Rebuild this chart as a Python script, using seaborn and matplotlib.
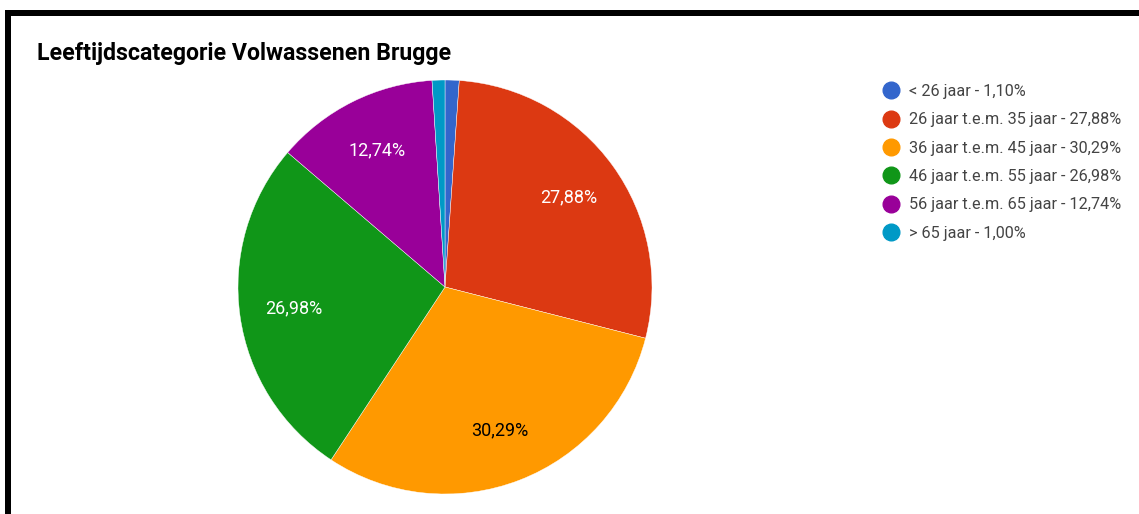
import numpy as np
import matplotlib
matplotlib.use("Agg")
import matplotlib.pyplot as plt
from matplotlib.lines import Line2D
from matplotlib.patches import Rectangle
import seaborn as sns

# Age-category shares (percent)
categories = [
    "< 26 jaar",
    "26 jaar t.e.m. 35 jaar",
    "36 jaar t.e.m. 45 jaar",
    "46 jaar t.e.m. 55 jaar",
    "56 jaar t.e.m. 65 jaar",
    "> 65 jaar",
]
shares = [1.10, 27.88, 30.29, 26.98, 12.74, 1.00]
slice_colors = ["#3366CC", "#DC3912", "#FF9900", "#109618", "#990099", "#0099C6"]
label_text_colors = ["white", "white", "black", "white", "white", "white"]
title = "Leeftijdscategorie Volwassenen Brugge"

sns.set_theme(style="white")
plt.rcParams["font.family"] = ["Roboto", "DejaVu Sans"]

W, H = 1139, 514
fig = plt.figure(figsize=(W / 100, H / 100), dpi=100)
fig.patch.set_facecolor("white")

palette = sns.color_palette(slice_colors)

def fx(px):
    return px / W

def fy(py):
    return 1 - py / H

# pie axes: centre (445, 287), radius 207 px
cx, cy, r = 445, 287, 207
ax = fig.add_axes([fx(cx - r), fy(cy + r), 2 * r / W, 2 * r / H])
wedges, _ = ax.pie(
    shares,
    colors=palette,
    startangle=90,
    counterclock=False,
    wedgeprops=dict(edgecolor="white", linewidth=0.3),
)
ax.set_xlim(-1, 1)
ax.set_ylim(-1, 1)
ax.set_aspect("auto")

def fmt(v):
    return f"{v:.2f}%".replace(".", ",")

for w, v, tc in zip(wedges, shares, label_text_colors):
    if v < 5:
        continue
    ang = np.deg2rad((w.theta1 + w.theta2) / 2)
    d = 0.74
    ax.text(d * np.cos(ang), d * np.sin(ang), fmt(v), ha="center", va="center",
            color=tc, fontsize=13)

# title
fig.text(fx(37), fy(60), title, fontsize=16.7, fontweight="bold", color="black",
         ha="left", va="baseline")

# legend
handles = [
    Line2D([], [], marker="o", linestyle="none", markersize=12,
           markerfacecolor=c, markeredgecolor=c)
    for c in palette
]
labels = [f"{c} - {fmt(v)}" for c, v in zip(categories, shares)]
leg = fig.legend(
    handles, labels,
    loc="upper left",
    bbox_to_anchor=(fx(883), fy(84)),
    frameon=False,
    fontsize=11.7,
    labelspacing=0.82,
    handlelength=1.0,
    handletextpad=0.6,
    borderaxespad=0,
    borderpad=0,
)
for t in leg.get_texts():
    t.set_color("#444444")

# frame edges along top and left
fig.add_artist(Rectangle((fx(5), fy(16)), fx(1139 - 5), 6 / H, transform=fig.transFigure,
                         facecolor="black", edgecolor="none"))
fig.add_artist(Rectangle((fx(5), 0), 6 / W, fy(10), transform=fig.transFigure,
                         facecolor="black", edgecolor="none"))

fig.savefig("out.png", dpi=100, facecolor="white")
